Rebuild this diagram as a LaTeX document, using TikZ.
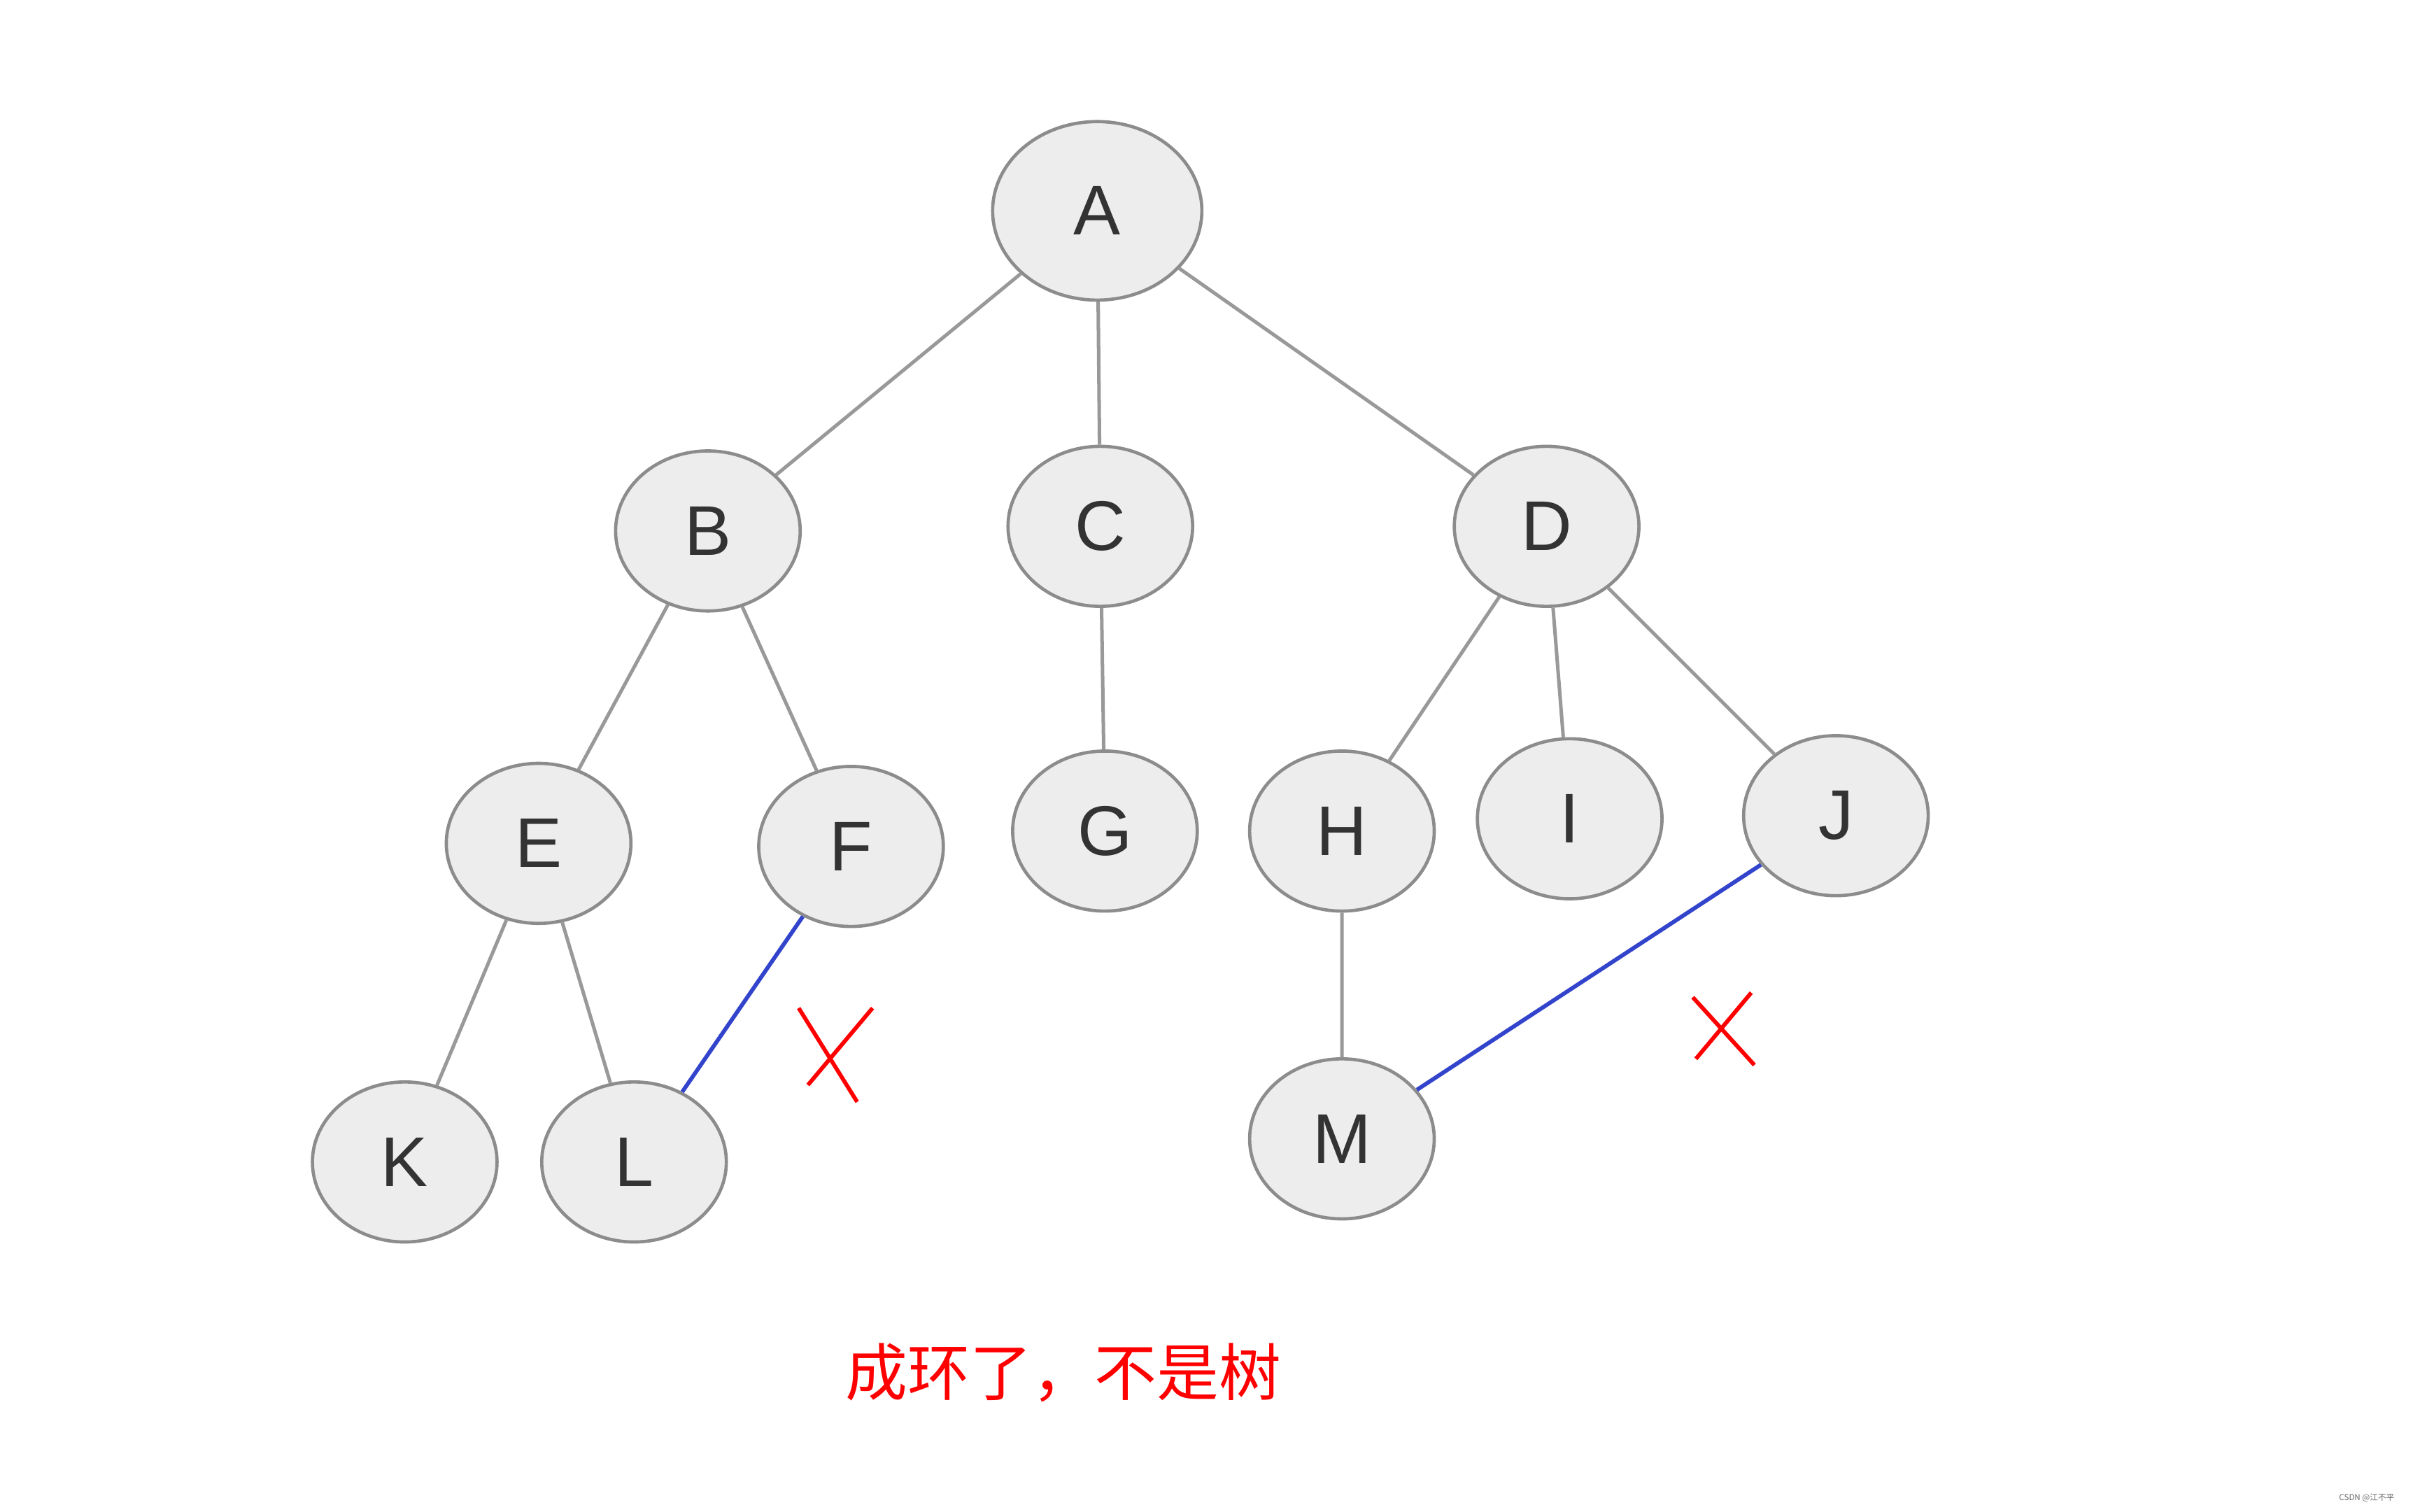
\documentclass[tikz,border=0pt]{standalone}
\usepackage{fontspec}
\setmainfont{Liberation Sans}
\newfontfamily\cjk{Noto Sans CJK SC}
\usetikzlibrary{shapes.geometric}
\definecolor{lblue}{HTML}{3344CC}
\begin{document}
\begin{tikzpicture}[x=0.02cm,y=-0.02cm,
  tn/.style={ellipse,draw=black!45,line width=1.2pt,fill=black!7,minimum width=2.4cm,minimum height=2.08cm,font=\fontsize{26}{30}\selectfont,text=black!80,inner sep=0pt},
  ed/.style={draw=black!40,line width=1.3pt},
  bl/.style={draw=lblue,line width=1.5pt},
  rx/.style={draw=red,line width=1.5pt}]
\useasboundingbox (0,0) rectangle (1568,982);
\node[tn,minimum width=2.72cm,minimum height=2.32cm] (A) at (713,137) {A};
\node[tn] (B) at (460,345) {B};
\node[tn] (C) at (715,342) {C};
\node[tn] (D) at (1005,342) {D};
\node[tn] (E) at (350,548) {E};
\node[tn] (F) at (553,550) {F};
\node[tn] (G) at (718,540) {G};
\node[tn] (H) at (872,540) {H};
\node[tn] (I) at (1020,532) {I};
\node[tn] (J) at (1193,530) {J};
\node[tn] (K) at (263,755) {K};
\node[tn] (L) at (412,755) {L};
\node[tn] (M) at (872,740) {M};
\draw[ed] (A)--(B) (A)--(C) (A)--(D) (B)--(E) (B)--(F) (C)--(G)
  (D)--(H) (D)--(I) (D)--(J) (E)--(K) (E)--(L) (H)--(M);
\draw[bl] (F)--(L);
\draw[bl] (J)--(M);
\draw[rx] (519,655)--(557,716) (567,655)--(525,705);
\draw[rx] (1100,648)--(1140,692) (1138,645)--(1102,688);
\node[text=red,font=\cjk\fontsize{23}{27}\selectfont] (T) at (691,892) {成环了，不是树};
\node[text=black!60,font=\cjk\fontsize{3}{4}\selectfont,anchor=east] (W) at (1562,973) {CSDN @江不平};
\end{tikzpicture}
\end{document}
